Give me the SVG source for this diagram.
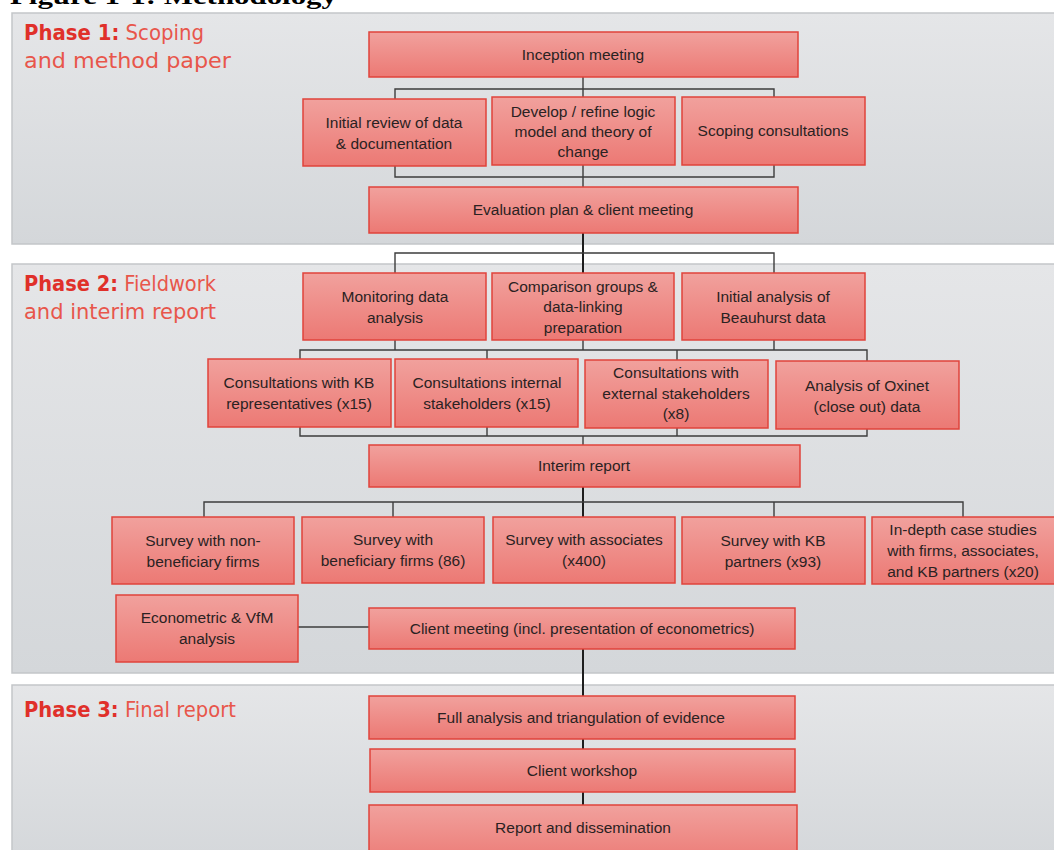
<svg xmlns="http://www.w3.org/2000/svg" width="1054" height="850" viewBox="0 0 1054 850">
  <defs>
    <linearGradient id="panelFill" x1="0" y1="0" x2="0" y2="1">
      <stop offset="0" stop-color="#e5e6e8"/>
      <stop offset="1" stop-color="#d4d7da"/>
    </linearGradient>
    <linearGradient id="boxFill" x1="0" y1="0" x2="0" y2="1">
      <stop offset="0" stop-color="#f1a19d"/>
      <stop offset="1" stop-color="#ec7974"/>
    </linearGradient>
    <style>
      .panel { fill: url(#panelFill); stroke: #c3c6c9; stroke-width: 1.5; }
      .box { fill: url(#boxFill); stroke: #e0433b; stroke-width: 1.5; }
      .lbl { font-family: "Liberation Sans", Arial, sans-serif; font-size: 15.5px; fill: #2a2222; text-anchor: middle; }
      .ph { font-family: "DejaVu Sans", "Liberation Sans", sans-serif; font-size: 21px; fill: #e8564b; }
      .phb { font-weight: bold; fill: #e0302a; }
      .wire { fill: none; stroke: #3d3d3d; stroke-width: 1.4; }
      .trunk { fill: none; stroke: #1e1e1e; stroke-width: 2; }
      .title { font-family: "Liberation Serif", "Times New Roman", serif; font-weight: bold; font-size: 24px; fill: #000; }
    </style>
  </defs>

  <rect width="1054" height="850" fill="#ffffff"/>

  <!-- page heading, running off the top edge -->
  <text class="title" x="10" y="4" textLength="327" lengthAdjust="spacingAndGlyphs">Figure 1-1: Methodology</text>

  <!-- phase panels -->
  <g id="phase1-panel">
    <rect class="panel" x="12" y="13" width="1050" height="231"/>
    <text class="ph" x="24" y="40" textLength="180" lengthAdjust="spacingAndGlyphs"><tspan class="phb">Phase 1:</tspan> Scoping</text>
    <text class="ph" x="24" y="68" textLength="207" lengthAdjust="spacingAndGlyphs">and method paper</text>
  </g>
  <g id="phase2-panel">
    <rect class="panel" x="12" y="264" width="1050" height="409"/>
    <text class="ph" x="24" y="291" textLength="192" lengthAdjust="spacingAndGlyphs"><tspan class="phb">Phase 2:</tspan> Fieldwork</text>
    <text class="ph" x="24" y="319" textLength="192" lengthAdjust="spacingAndGlyphs">and interim report</text>
  </g>
  <g id="phase3-panel">
    <rect class="panel" x="12" y="685" width="1050" height="180"/>
    <text class="ph" x="24" y="717" textLength="212" lengthAdjust="spacingAndGlyphs"><tspan class="phb">Phase 3:</tspan> Final report</text>
  </g>

  <!-- connectors -->
  <g id="connectors">
    <!-- phase 1 -->
    <path class="wire" d="M583 77 V97 M395 99 V89 H774 V97"/>
    <path class="wire" d="M395 166 V177 H774 V165 M583 165 V187"/>
    <!-- phase 1 to phase 2 -->
    <path class="trunk" d="M583 233 V273"/>
    <path class="wire" d="M395 273 V253 H774 V273"/>
    <!-- phase 2, first to second row -->
    <path class="wire" d="M395 340 V350 M583 340 V350 M774 340 V350 M300 359 V350 H867 V361 M487 350 V359 M677 350 V360"/>
    <!-- second row to interim report -->
    <path class="wire" d="M300 427 V436 H867 V429 M487 427 V436 M677 428 V436 M583 436 V445"/>
    <!-- interim report to surveys -->
    <path class="trunk" d="M583 487 V517"/>
    <path class="wire" d="M204 517 V502 H963 V517 M393 502 V517 M774 502 V517"/>
    <!-- econometrics to client meeting -->
    <path class="wire" d="M298 627 H369"/>
    <!-- client meeting through phase 3 -->
    <path class="trunk" d="M583 649 V696 M583 739 V749 M583 792 V805"/>
  </g>

  <!-- phase 1 nodes -->
  <g id="inception-meeting">
    <rect class="box" x="369" y="32" width="429" height="45"/>
    <text class="lbl" x="583" y="60">Inception meeting</text>
  </g>
  <g id="initial-review">
    <rect class="box" x="303" y="99" width="183" height="67"/>
    <text class="lbl" x="394" y="128">Initial review of data</text>
    <text class="lbl" x="394" y="149">&amp; documentation</text>
  </g>
  <g id="logic-model">
    <rect class="box" x="492" y="97" width="183" height="68"/>
    <text class="lbl" x="583" y="117">Develop / refine logic</text>
    <text class="lbl" x="583" y="137">model and theory of</text>
    <text class="lbl" x="583" y="157">change</text>
  </g>
  <g id="scoping-consultations">
    <rect class="box" x="682" y="97" width="183" height="68"/>
    <text class="lbl" x="773" y="136">Scoping consultations</text>
  </g>
  <g id="evaluation-plan">
    <rect class="box" x="369" y="187" width="429" height="46"/>
    <text class="lbl" x="583" y="215">Evaluation plan &amp; client meeting</text>
  </g>

  <!-- phase 2 nodes -->
  <g id="monitoring-data">
    <rect class="box" x="303" y="273" width="183" height="67"/>
    <text class="lbl" x="395" y="302">Monitoring data</text>
    <text class="lbl" x="395" y="323">analysis</text>
  </g>
  <g id="comparison-groups">
    <rect class="box" x="492" y="273" width="182" height="67"/>
    <text class="lbl" x="583" y="292">Comparison groups &amp;</text>
    <text class="lbl" x="583" y="312">data-linking</text>
    <text class="lbl" x="583" y="333">preparation</text>
  </g>
  <g id="beauhurst-data">
    <rect class="box" x="682" y="273" width="183" height="67"/>
    <text class="lbl" x="773" y="302">Initial analysis of</text>
    <text class="lbl" x="773" y="323">Beauhurst data</text>
  </g>
  <g id="kb-representatives">
    <rect class="box" x="208" y="359" width="183" height="68"/>
    <text class="lbl" x="299" y="388">Consultations with KB</text>
    <text class="lbl" x="299" y="409">representatives (x15)</text>
  </g>
  <g id="internal-stakeholders">
    <rect class="box" x="395" y="359" width="183" height="68"/>
    <text class="lbl" x="487" y="388">Consultations internal</text>
    <text class="lbl" x="487" y="409">stakeholders (x15)</text>
  </g>
  <g id="external-stakeholders">
    <rect class="box" x="585" y="360" width="183" height="68"/>
    <text class="lbl" x="676" y="378">Consultations with</text>
    <text class="lbl" x="676" y="399">external stakeholders</text>
    <text class="lbl" x="676" y="419">(x8)</text>
  </g>
  <g id="oxinet-data">
    <rect class="box" x="776" y="361" width="183" height="68"/>
    <text class="lbl" x="867" y="391">Analysis of Oxinet</text>
    <text class="lbl" x="867" y="412">(close out) data</text>
  </g>
  <g id="interim-report">
    <rect class="box" x="369" y="445" width="431" height="42"/>
    <text class="lbl" x="584" y="471">Interim report</text>
  </g>
  <g id="survey-non-beneficiary">
    <rect class="box" x="112" y="517" width="182" height="67"/>
    <text class="lbl" x="203" y="546">Survey with non-</text>
    <text class="lbl" x="203" y="567">beneficiary firms</text>
  </g>
  <g id="survey-beneficiary">
    <rect class="box" x="302" y="517" width="182" height="66"/>
    <text class="lbl" x="393" y="545">Survey with</text>
    <text class="lbl" x="393" y="566">beneficiary firms (86)</text>
  </g>
  <g id="survey-associates">
    <rect class="box" x="493" y="517" width="182" height="66"/>
    <text class="lbl" x="584" y="545">Survey with associates</text>
    <text class="lbl" x="584" y="566">(x400)</text>
  </g>
  <g id="survey-kb-partners">
    <rect class="box" x="682" y="517" width="183" height="67"/>
    <text class="lbl" x="773" y="546">Survey with KB</text>
    <text class="lbl" x="773" y="567">partners (x93)</text>
  </g>
  <g id="case-studies">
    <rect class="box" x="872" y="517" width="184" height="67"/>
    <text class="lbl" x="963" y="535">In-depth case studies</text>
    <text class="lbl" x="963" y="556">with firms, associates,</text>
    <text class="lbl" x="963" y="577">and KB partners (x20)</text>
  </g>
  <g id="econometric-analysis">
    <rect class="box" x="116" y="595" width="182" height="67"/>
    <text class="lbl" x="207" y="623">Econometric &amp; VfM</text>
    <text class="lbl" x="207" y="644">analysis</text>
  </g>
  <g id="client-meeting">
    <rect class="box" x="369" y="608" width="426" height="41"/>
    <text class="lbl" x="582" y="634">Client meeting (incl. presentation of econometrics)</text>
  </g>

  <!-- phase 3 nodes -->
  <g id="full-analysis">
    <rect class="box" x="369" y="696" width="426" height="43"/>
    <text class="lbl" x="581" y="723">Full analysis and triangulation of evidence</text>
  </g>
  <g id="client-workshop">
    <rect class="box" x="370" y="749" width="425" height="43"/>
    <text class="lbl" x="582" y="776">Client workshop</text>
  </g>
  <g id="report-dissemination">
    <rect class="box" x="369" y="805" width="428" height="60"/>
    <text class="lbl" x="583" y="833">Report and dissemination</text>
  </g>
</svg>
